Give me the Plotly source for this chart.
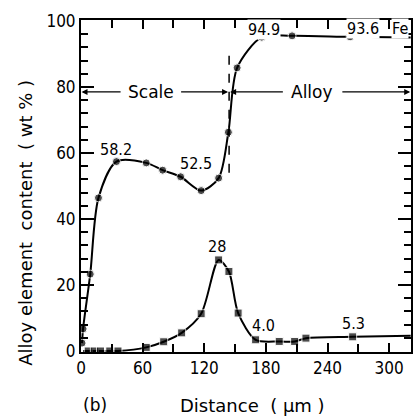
import plotly.graph_objects as go

# ---- data ----
fe_x = [1, 2, 9, 17, 34.5, 63.5, 79.5, 97, 117, 134, 143.5, 152, 176, 205.5, 262, 321]
fe_y = [2.4, 6.7, 23.3, 46.4, 57.4, 57.0, 54.8, 52.8, 48.6, 52.4, 66.3, 85.8, 95.1, 95.5, 95.2, 95.0]
fe_marker = [8, 8, 8, 8, 8, 8, 8, 8, 8, 8, 8, 8, 8, 8, 8, 0]

al_x = [2, 7, 13, 19, 28, 36, 63.5, 80.5, 98, 117, 134, 144, 153, 170, 193, 208, 219, 264.5, 321]
al_y = [0, 0, 0, 0, 0, 0, 1.1, 2.8, 5.5, 11.3, 27.6, 24.1, 11.5, 3.4, 2.9, 2.9, 3.9, 4.3, 4.6]
al_marker = [0, 8, 8, 8, 8, 8, 8, 8, 8, 8, 8, 8, 8, 8, 8, 8, 8, 8, 0]

value_labels = ["58.2", "52.5", "94.9", "93.6", "Fe", "28", "4.0", "5.3"]
label_x = [34, 112, 178, 275, 302, 132.5, 178, 265]
label_y = [61.2, 56.7, 97.3, 97.6, 97.6, 31.8, 7.6, 8.2]
label_anchor = ["center", "center", "center", "center", "left", "center", "center", "center"]

x_tick_step = 60
y_tick_step = 20
boundary_x = 144.2
region_y = 78.5

FONT = "DejaVu Sans Condensed, Liberation Sans Narrow, sans-serif"
TFONT = "DejaVu Sans, sans-serif"
TICK = "black"

fig = go.Figure()
fig.add_trace(go.Scatter(x=fe_x, y=fe_y, mode="lines+markers",
                         line=dict(color="black", width=2, shape="spline", smoothing=0.8),
                         marker=dict(symbol="circle", size=fe_marker, color="black"),
                         showlegend=False))
fig.add_trace(go.Scatter(x=al_x, y=al_y, mode="lines+markers",
                         line=dict(color="black", width=2, shape="spline", smoothing=0.8),
                         marker=dict(symbol="square", size=al_marker, color="black"),
                         showlegend=False))

# boundary dashed line
fig.add_shape(type="line", x0=boundary_x, x1=boundary_x, y0=54, y1=92,
              line=dict(color="black", width=1.5, dash="dash"))

# region arrows
for (x0, x1) in [(40, 0.5), (96, boundary_x - 1), (198, boundary_x + 1), (253, 320.5)]:
    fig.add_annotation(x=x1, y=region_y, ax=x0, ay=region_y, xref="x", yref="y",
                       axref="x", ayref="y", text="", showarrow=True,
                       arrowhead=2, arrowsize=1, arrowwidth=1.2, arrowcolor="black")
fig.add_annotation(x=68.5, y=region_y, text="Scale", showarrow=False,
                   font=dict(family=TFONT, size=17, color="black"), bgcolor="white")
fig.add_annotation(x=224.5, y=region_y, text="Alloy", showarrow=False,
                   font=dict(family=TFONT, size=17, color="black"), bgcolor="white")

for t, lx, ly, an in zip(value_labels, label_x, label_y, label_anchor):
    fig.add_annotation(x=lx, y=ly, text=t, showarrow=False, xanchor=an,
                       font=dict(family=FONT, size=16, color="black"),
                       bgcolor="white" if ly > 95 else None, borderpad=0)

# axis titles as annotations
fig.add_annotation(xref="x domain", yref="paper", x=-0.169, xanchor="center",
                   y=0.39, yanchor="middle",
                   text="Alloy element  content  ( wt % )", textangle=-90,
                   showarrow=False, font=dict(family=TFONT, size=18, color="black"))
fig.add_annotation(xref="x domain", yref="paper", x=0.52, y=-0.16, yanchor="middle",
                   text="Distance  ( µm )", showarrow=False,
                   font=dict(family=TFONT, size=18, color="black"))
fig.add_annotation(xref="x domain", yref="paper", x=0.0, y=-0.16, yanchor="middle",
                   text="(b)", showarrow=False,
                   font=dict(family=TFONT, size=17, color="black"))

fig.update_layout(
    width=414, height=418, margin=dict(l=81, r=1, t=20, b=66),
    paper_bgcolor="white", plot_bgcolor="white",
)
fig.update_xaxes(range=[0, 321.3], tick0=0, dtick=x_tick_step, ticks="inside", ticklen=9,
                 tickwidth=2, tickcolor=TICK, showline=True, linewidth=2,
                 linecolor="black", showgrid=False, zeroline=False, mirror="allticks",
                 tickfont=dict(family=FONT, size=17, color="black"),
                 minor=dict(dtick=x_tick_step / 2, ticks="inside", ticklen=8,
                            tickwidth=2, tickcolor=TICK))
fig.update_yaxes(range=[-0.3, 100.3], tick0=0, dtick=y_tick_step, ticks="inside", ticklen=13,
                 tickwidth=2, tickcolor=TICK, showline=True, linewidth=2,
                 linecolor="black", showgrid=False, zeroline=False, mirror="allticks",
                 tickfont=dict(family=FONT, size=17, color="black"),
                 minor=dict(dtick=y_tick_step / 5, ticks="inside", ticklen=7,
                            tickwidth=2, tickcolor=TICK))

fig.write_html("out.html")
